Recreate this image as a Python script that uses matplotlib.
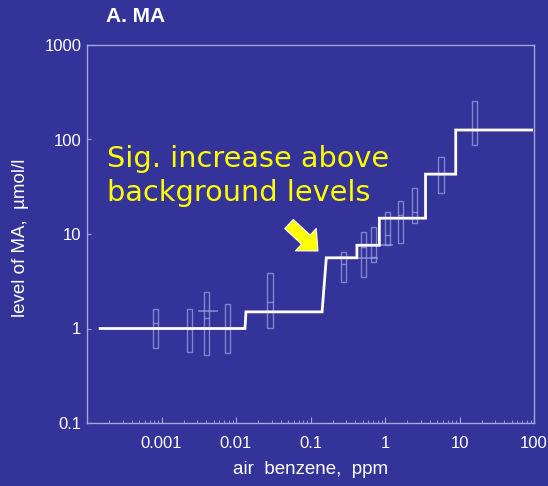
import numpy as np
import matplotlib
matplotlib.use("Agg")
import matplotlib.pyplot as plt
from matplotlib.ticker import LogLocator, FixedLocator, FixedFormatter, NullFormatter

# Step curve of MA level vs air benzene (breakpoints and plateau levels)
step_x_start = [1.5e-4, 0.0132, 0.143, 0.42, 0.84, 3.5, 8.9]
step_x_top = [1.5e-4, 0.0136, 0.163, 0.42, 0.84, 3.5, 8.9]
step_x_end = 93.0
step_levels = [1.0, 1.5, 5.6, 7.6, 14.7, 43.0, 126.0]

# Range boxes per exposure group: x position, low, high, central value
box_x = [0.00084, 0.0024, 0.0040, 0.0076, 0.0286, 0.28, 0.52, 0.71, 1.07, 1.63, 2.5, 5.65, 15.7]
box_low = [0.62, 0.57, 0.52, 0.55, 1.02, 3.1, 3.5, 5.1, 7.65, 8.0, 13.2, 27.0, 87.5]
box_high = [1.6, 1.6, 2.45, 1.8, 3.84, 6.5, 10.6, 11.8, 17.2, 22.4, 31.0, 65.0, 258.0]
box_mid = [1.14, 1.0, 1.3, 1.0, 1.9, 4.8, 7.3, 5.7, 9.7, 16.0, 17.2, 43.0, 126.0]

# Horizontal exposure-range bars
hbar_y = [1.54, 5.6, 7.6]
hbar_x0 = [0.0031, 0.42, 0.84]
hbar_x1 = [0.0057, 0.81, 1.28]

x_ticks = [1e-3, 1e-2, 1e-1, 1, 10, 100]
x_tick_labels = ["0.001", "0.01", "0.1", "1", "10", "100"]
y_ticks = [0.1, 1, 10, 100, 1000]
y_tick_labels = ["0.1", "1", "10", "100", "1000"]

bg = "#333399"
frame = "#a6a6d8"
box_col = "#a0a0e0"

plt.rcParams["font.family"] = ["Liberation Sans", "DejaVu Sans"]

W, H = 548, 486
fig = plt.figure(figsize=(W / 100, H / 100), dpi=100, facecolor=bg)
ax = fig.add_axes([87 / W, 63 / H, 447 / W, 378 / H], facecolor=bg)
ax.set_xscale("log")
ax.set_yscale("log")
ax.set_xlim(1e-4, 100)
ax.set_ylim(0.1, 1000)

# range boxes
half = 0.034
for x, lo, hi, mid in zip(box_x, box_low, box_high, box_mid):
    left = x * 10 ** (-half)
    right = x * 10 ** half
    ax.bar(left, hi - lo, width=right - left, bottom=lo, align="edge",
           facecolor="none", edgecolor=box_col, linewidth=1.0, alpha=0.75, zorder=2)
    ax.hlines(mid, left, right, color=box_col, linewidth=1.0, alpha=0.75, zorder=2)

ax.hlines(hbar_y, hbar_x0, hbar_x1, color=box_col, linewidth=1.2, alpha=0.75, zorder=2)

# step curve
px, py = [], []
for i, lev in enumerate(step_levels):
    px.append(step_x_top[i])
    py.append(lev)
    nxt = step_x_start[i + 1] if i + 1 < len(step_levels) else step_x_end
    px.append(nxt)
    py.append(lev)
ax.plot(px, py, color="white", linewidth=2.0, solid_joinstyle="miter", zorder=3)

# axes styling
for s in ax.spines.values():
    s.set_color(frame)
    s.set_linewidth(1.0)

ax.xaxis.set_major_locator(FixedLocator(x_ticks))
ax.xaxis.set_major_formatter(FixedFormatter(x_tick_labels))
ax.xaxis.set_minor_locator(LogLocator(base=10, subs=np.arange(2, 10), numticks=20))
ax.xaxis.set_minor_formatter(NullFormatter())
ax.yaxis.set_major_locator(FixedLocator(y_ticks))
ax.yaxis.set_major_formatter(FixedFormatter(y_tick_labels))
ax.yaxis.set_minor_locator(FixedLocator([]))

ax.tick_params(axis="x", which="major", direction="in", length=4, color=frame,
               labelcolor="white", labelsize=12, pad=9)
ax.tick_params(axis="x", which="minor", direction="in", length=2.5, color=frame)
ax.tick_params(axis="y", which="major", direction="in", length=3, color=frame,
               labelcolor="white", labelsize=12, pad=4)

ax.set_xlabel("air  benzene,  ppm", color="white", fontsize=13.5)
ax.xaxis.label.set_va("center")
ax.xaxis.set_label_coords(0.501, -0.123)
ax.set_ylabel("level of MA,  \u00b5mol/l", color="white", fontsize=13.5)
ax.yaxis.label.set_va("center")
ax.yaxis.set_label_coords(-0.148, 0.49)

fig.text(106 / W, 1 - 17 / H, "A. MA", color="white", fontsize=15,
         fontweight="bold", ha="left", va="center")

fig.text(107 / W, 1 - 145 / H, "Sig. increase above\nbackground levels",
         color="#ffff00", fontsize=20.7, family=["DejaVu Sans"],
         ha="left", va="top", linespacing=1.26)

ax.annotate("", xy=(318, H - 251), xycoords="figure pixels",
            xytext=(289, H - 224), textcoords="figure pixels",
            arrowprops=dict(arrowstyle="simple,head_length=1.2,head_width=2.2,tail_width=0.9",
                            facecolor="#ffff00", edgecolor="white", linewidth=0.8,
                            shrinkA=0, shrinkB=0))

fig.savefig("out.png", dpi=100, facecolor=bg)
